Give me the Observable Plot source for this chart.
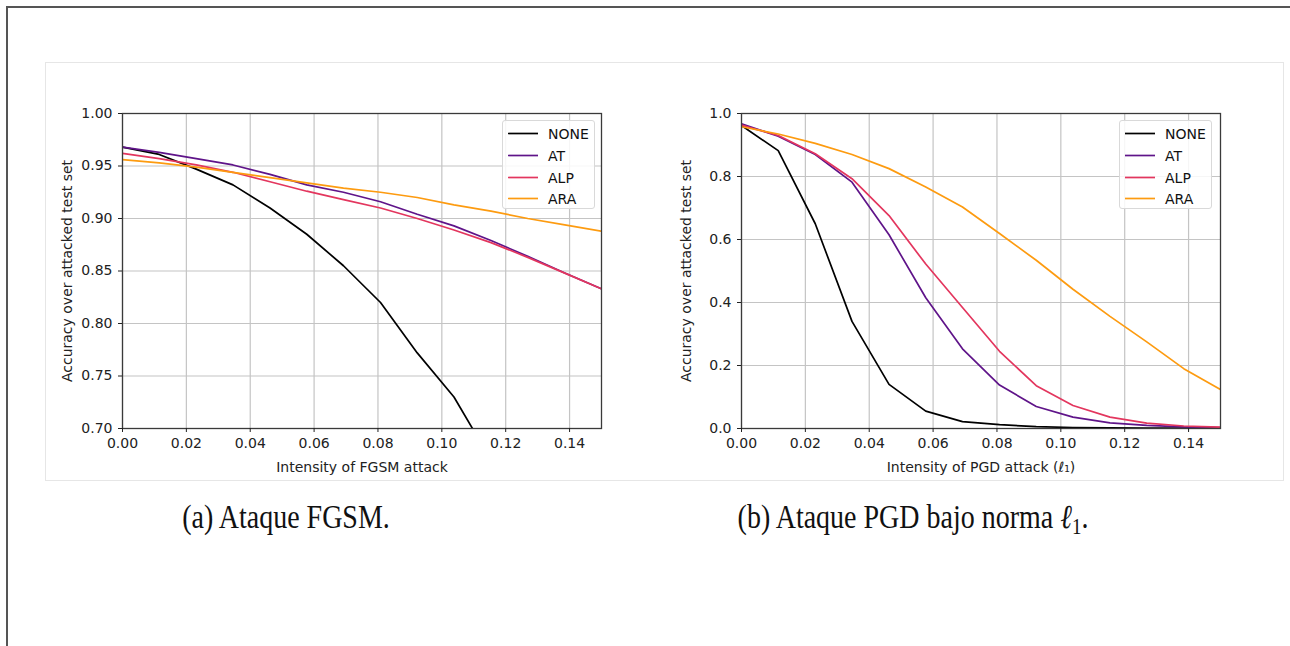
<!DOCTYPE html>
<html>
<head>
<meta charset="utf-8">
<script src="https://cdn.jsdelivr.net/npm/d3@7"></script>
<script src="https://cdn.jsdelivr.net/npm/@observablehq/plot@0.6"></script>
<style>
  html, body { margin: 0; padding: 0; background: #fff; }
  #page { position: relative; width: 1290px; height: 646px; overflow: hidden; background: #fff; }
  #outer { position: absolute; left: 6px; top: 6px; width: 1300px; height: 660px;
           border-top: 2px solid #555; border-left: 2px solid #555; }
  #panel { position: absolute; left: 45px; top: 62px; width: 1237px; height: 417px;
           border: 1px solid #e6e6e6; background: #fff; }
  .chart { position: absolute; }
  .legend { position: absolute; width: 93px; height: 89px; box-sizing: border-box;
            border: 1px solid #d9d9d9; border-radius: 3px; background: rgba(255,255,255,0.85);
            font-family: "DejaVu Sans", sans-serif; font-size: 14px; color: #111; }
  .legend .row { position: absolute; left: 0; height: 20px; width: 100%; }
  .legend svg { position: absolute; left: 4px; top: 0; }
  .legend span { position: absolute; left: 45px; top: 1px; line-height: 18px; }
  .caption { position: absolute; top: 503px; font-family: "Liberation Serif", serif; font-size: 28px;
             line-height: 28px; color: #111; white-space: nowrap;
             transform: translateX(-50%) scaleY(1.2); transform-origin: 50% 50%; }
  .caption sub { font-size: 19px; vertical-align: -5px; line-height: 0; }
</style>
</head>
<body>
<div id="page">
  <div id="outer"></div>
  <div id="panel"></div>
</div>
<script>
// ---------- data ----------
const seriesNames = ["NONE", "AT", "ALP", "ARA"];
const seriesColors = ["#000000", "#5f1489", "#e3365e", "#fd9b10"];

const xGrid = [0, 0.0115, 0.0231, 0.0346, 0.0462, 0.0577, 0.0692, 0.0808, 0.0923, 0.1038, 0.1154, 0.1269, 0.1385, 0.15];

// (a) FGSM
const fgsmNone = [0.968, 0.961, 0.947, 0.932, 0.910, 0.885, 0.855, 0.820, 0.772, 0.730, 0.670];
const fgsmAT   = [0.968, 0.963, 0.957, 0.951, 0.942, 0.932, 0.925, 0.916, 0.904, 0.893, 0.879, 0.864, 0.848, 0.833];
const fgsmALP  = [0.962, 0.957, 0.951, 0.944, 0.935, 0.926, 0.918, 0.910, 0.900, 0.889, 0.877, 0.863, 0.848, 0.833];
const fgsmARA  = [0.956, 0.953, 0.949, 0.944, 0.939, 0.934, 0.929, 0.925, 0.920, 0.913, 0.907, 0.900, 0.894, 0.888];

// (b) PGD l1
const pgdNone = [0.962, 0.882, 0.650, 0.340, 0.140, 0.055, 0.022, 0.012, 0.006, 0.003, 0.002, 0.001, 0.001, 0.001];
const pgdAT   = [0.967, 0.928, 0.870, 0.782, 0.615, 0.415, 0.253, 0.138, 0.070, 0.036, 0.018, 0.010, 0.005, 0.003];
const pgdALP  = [0.963, 0.930, 0.872, 0.793, 0.676, 0.522, 0.384, 0.245, 0.136, 0.073, 0.036, 0.017, 0.008, 0.004];
const pgdARA  = [0.958, 0.935, 0.905, 0.870, 0.825, 0.767, 0.703, 0.619, 0.534, 0.442, 0.356, 0.275, 0.190, 0.124];

const xTicks = [0, 0.02, 0.04, 0.06, 0.08, 0.10, 0.12, 0.14];
const fgsmYTicks = [0.70, 0.75, 0.80, 0.85, 0.90, 0.95, 1.00];
const pgdYTicks = [0.0, 0.2, 0.4, 0.6, 0.8, 1.0];

const fgsmXLabel = "Intensity of FGSM attack";
const pgdXLabel = "Intensity of PGD attack (ℓ₁)";
const yLabel = "Accuracy over attacked test set";
const captionA = "(a) Ataque FGSM.";
const captionB = "(b) Ataque PGD bajo norma <i>ℓ</i><sub>1</sub>.";

// ---------- build ----------
function tidy(seriesArrays) {
  const rows = [];
  seriesArrays.forEach((vals, si) => {
    vals.forEach((v, i) => rows.push({series: seriesNames[si], x: xGrid[i], y: v}));
  });
  return rows;
}

function makeChart(data, yDomain, yTicks, yFmt, xLabel, marginLeft) {
  return Plot.plot({
    width: marginLeft + 479 + 12,
    height: 388,
    marginLeft: marginLeft,
    marginRight: 12,
    marginTop: 18,
    marginBottom: 55,
    style: {fontFamily: "DejaVu Sans, sans-serif", fontSize: "14px", color: "#222", background: "transparent", overflow: "visible"},
    x: {domain: [0, 0.15]},
    y: {domain: yDomain},
    color: {domain: seriesNames, range: seriesColors},
    marks: [
      Plot.gridX(xTicks, {stroke: "#c4c4c4", strokeOpacity: 1, strokeWidth: 1.2}),
      Plot.gridY(yTicks, {stroke: "#c4c4c4", strokeOpacity: 1, strokeWidth: 1.2}),
      Plot.line(data, {x: "x", y: "y", z: "series", stroke: "series", strokeWidth: 1.7, clip: true}),
      Plot.frame({stroke: "#3a3a3a", strokeWidth: 1.3}),
      Plot.axisX(xTicks, {tickFormat: d3.format(".2f"), tickSize: 4, tickPadding: 6, label: xLabel,
        labelAnchor: "center", labelOffset: 43, labelArrow: "none"}),
      Plot.axisY(yTicks, {tickFormat: d3.format(yFmt), tickSize: 4, tickPadding: 6, label: yLabel,
        labelAnchor: "center", labelOffset: 60, labelArrow: "none"})
    ]
  });
}

function makeLegend(left, top) {
  const div = document.createElement("div");
  div.className = "legend";
  div.style.left = left + "px";
  div.style.top = top + "px";
  seriesNames.forEach((name, i) => {
    const row = document.createElement("div");
    row.className = "row";
    row.style.top = (3 + i * 21.8) + "px";
    row.innerHTML = `<svg width="34" height="20"><line x1="1" x2="31" y1="9.5" y2="9.5" stroke="${seriesColors[i]}" stroke-width="1.7"/></svg><span>${name}</span>`;
    div.appendChild(row);
  });
  return div;
}

const page = document.getElementById("page");

const chartA = makeChart(tidy([fgsmNone, fgsmAT, fgsmALP, fgsmARA]), [0.7, 1.0], fgsmYTicks, ".2f", fgsmXLabel, 82);
chartA.classList.add("chart");
chartA.style.left = "40px";
chartA.style.top = "95px";
page.appendChild(chartA);

const chartB = makeChart(tidy([pgdNone, pgdAT, pgdALP, pgdARA]), [0, 1.0], pgdYTicks, ".1f", pgdXLabel, 81);
chartB.classList.add("chart");
chartB.style.left = "660px";
chartB.style.top = "95px";
page.appendChild(chartB);

page.appendChild(makeLegend(502, 120));
page.appendChild(makeLegend(1119, 120));

const capA = document.createElement("div");
capA.className = "caption";
capA.style.left = "286px";
capA.textContent = captionA;
page.appendChild(capA);

const capB = document.createElement("div");
capB.className = "caption";
capB.style.left = "913px";
capB.innerHTML = captionB;
page.appendChild(capB);
</script>
</body>
</html>
